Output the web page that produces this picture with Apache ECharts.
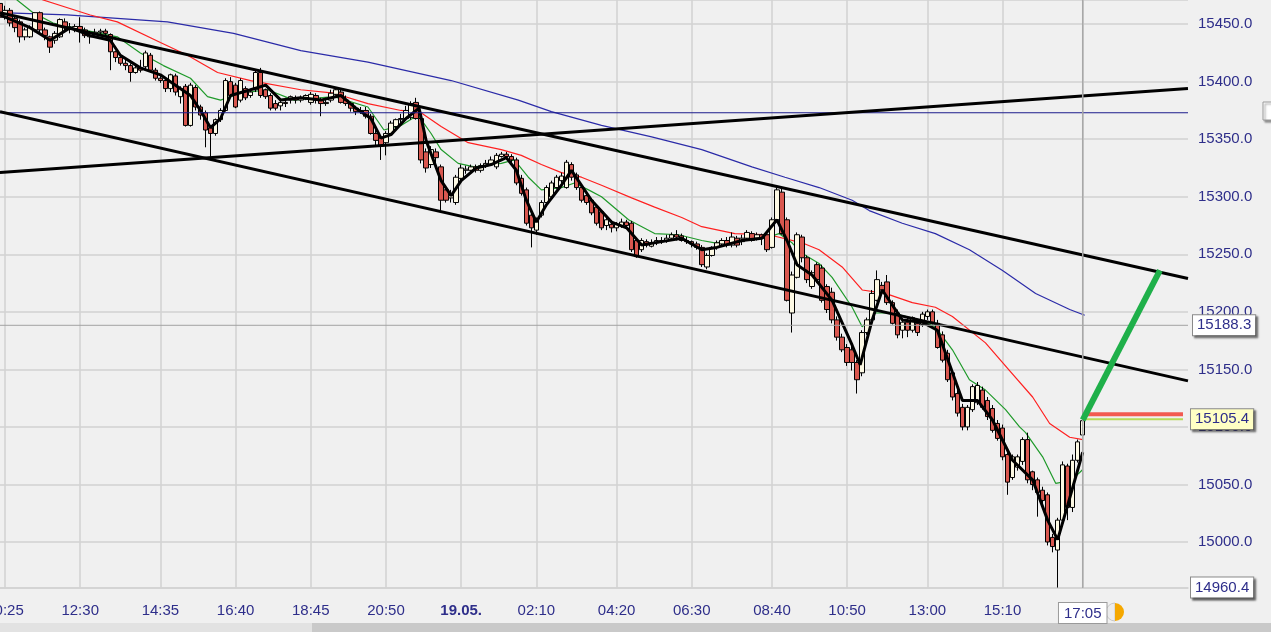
<!DOCTYPE html>
<html><head><meta charset="utf-8">
<script src="https://cdn.jsdelivr.net/npm/echarts@6/dist/echarts.min.js"></script>
<style>html,body{margin:0;padding:0;background:#f0f0f0;}#c{width:1271px;height:632px;}</style>
</head><body><div id="c"></div>
<script>
// ---------- data ----------
const slotCount = 238;
const tickIndex  = [1, 16, 32, 47, 62, 77, 92, 107, 123, 138, 154, 169, 185, 200, 216];
const tickLabels = ['10:25','12:30','14:35','16:40','18:45','20:50','19.05.','02:10','04:20','06:30','08:40','10:50','13:00','15:10','17:05'];

// [open, close, low, high]
const candles = [
[15468,15456,15454,15471],[15456,15462,15454,15466],[15462,15451,15448,15464],[15455,15447,15443,15458],
[15452,15439,15434,15454],[15439,15445,15436,15447],[15439,15447,15438,15449],[15445,15460,15443,15460],
[15460,15445,15443,15461],[15445,15440,15436,15447],[15439,15430,15425,15440],[15436,15442,15433,15444],
[15439,15454,15438,15455],[15452,15447,15443,15455],[15447,15446,15442,15451],[15446,15448,15443,15450],
[15448,15445,15434,15456],[15445,15440,15438,15447],[15439,15442,15433,15444],[15442,15443,15440,15446],
[15443,15444,15440,15446],[15444,15442,15440,15446],[15441,15426,15410,15442],[15426,15421,15417,15427],
[15421,15416,15414,15423],[15416,15414,15410,15419],[15414,15408,15400,15416],[15408,15412,15407,15414],
[15412,15410,15408,15419],[15413,15425,15411,15427],[15423,15410,15408,15425],[15410,15403,15401,15412],
[15403,15401,15399,15405],[15401,15394,15391,15403],[15394,15406,15391,15407],[15405,15391,15388,15407],
[15387,15394,15381,15396],[15396,15362,15361,15398],[15362,15397,15361,15399],[15395,15378,15375,15397],
[15378,15371,15367,15380],[15373,15358,15343,15375],[15360,15355,15332,15362],[15355,15367,15353,15368],
[15367,15375,15365,15377],[15375,15401,15374,15403],[15400,15388,15386,15404],[15397,15378,15377,15399],
[15384,15401,15382,15403],[15394,15386,15384,15396],[15388,15391,15386,15394],[15393,15408,15391,15410],
[15408,15388,15386,15412],[15393,15387,15385,15394],[15388,15377,15375,15390],[15381,15377,15375,15384],
[15379,15382,15375,15384],[15382,15381,15378,15386],[15384,15387,15381,15388],[15386,15384,15381,15388],
[15384,15386,15382,15388],[15386,15388,15384,15389],[15382,15389,15380,15391],[15388,15384,15381,15390],
[15384,15381,15370,15386],[15381,15382,15379,15386],[15384,15390,15382,15393],[15389,15393,15388,15395],
[15391,15382,15381,15394],[15384,15381,15379,15388],[15381,15377,15374,15382],[15377,15374,15371,15379],
[15374,15375,15372,15378],[15375,15370,15368,15378],[15370,15355,15354,15372],[15355,15349,15345,15358],
[15351,15344,15332,15353],[15347,15355,15336,15357],[15355,15364,15354,15366],[15361,15367,15359,15368],
[15367,15368,15363,15372],[15368,15375,15367,15379],[15369,15381,15367,15383],[15382,15368,15367,15386],
[15368,15332,15329,15370],[15339,15325,15321,15342],[15328,15341,15325,15344],[15339,15334,15328,15342],
[15326,15297,15288,15328],[15306,15297,15295,15308],[15299,15301,15295,15306],[15295,15317,15293,15319],
[15316,15325,15314,15328],[15323,15324,15320,15327],[15323,15326,15321,15328],[15326,15323,15321,15328],
[15323,15327,15321,15329],[15327,15329,15325,15332],[15328,15332,15327,15335],[15326,15336,15324,15338],
[15335,15337,15334,15339],[15337,15335,15332,15339],[15335,15332,15329,15337],[15332,15312,15310,15334],
[15316,15303,15301,15319],[15306,15277,15275,15308],[15284,15273,15256,15287],[15271,15280,15267,15282],
[15284,15295,15282,15297],[15295,15308,15293,15310],[15300,15312,15298,15314],[15308,15317,15307,15319],
[15314,15318,15312,15321],[15308,15330,15307,15332],[15328,15317,15314,15330],[15319,15308,15306,15321],
[15308,15297,15295,15310],[15301,15295,15293,15302],[15297,15286,15284,15299],[15291,15277,15275,15293],
[15287,15273,15271,15288],[15275,15280,15271,15282],[15276,15273,15269,15279],[15273,15276,15270,15278],
[15275,15278,15273,15281],[15278,15275,15272,15280],[15277,15254,15252,15279],[15262,15248,15247,15264],
[15254,15262,15252,15264],[15261,15258,15256,15263],[15257,15260,15256,15263],[15260,15262,15258,15265],
[15262,15261,15259,15265],[15262,15264,15260,15267],[15264,15267,15262,15269],[15267,15265,15262,15271],
[15266,15262,15261,15268],[15262,15261,15259,15265],[15261,15259,15256,15262],[15259,15256,15254,15261],
[15256,15241,15239,15258],[15239,15249,15237,15251],[15249,15256,15248,15257],[15256,15260,15254,15262],
[15259,15262,15257,15264],[15262,15258,15256,15265],[15258,15265,15256,15269],[15264,15258,15256,15266],
[15261,15264,15258,15267],[15264,15269,15262,15271],[15268,15262,15261,15270],[15264,15267,15262,15269],
[15267,15264,15258,15268],[15267,15254,15252,15268],[15256,15280,15255,15282],[15280,15306,15278,15308],
[15304,15268,15267,15308],[15280,15210,15209,15282],[15199,15232,15182,15235],[15230,15267,15229,15269],
[15265,15247,15243,15267],[15247,15228,15225,15249],[15222,15234,15220,15236],[15241,15228,15225,15243],
[15238,15210,15208,15241],[15222,15202,15199,15224],[15217,15193,15190,15221],[15193,15178,15175,15196],
[15178,15167,15165,15181],[15169,15156,15153,15172],[15167,15156,15149,15171],[15156,15141,15129,15158],
[15147,15182,15144,15184],[15182,15193,15180,15195],[15193,15216,15191,15219],[15210,15228,15209,15236],
[15223,15219,15215,15226],[15226,15208,15206,15232],[15208,15190,15189,15210],[15199,15180,15177,15202],
[15184,15191,15177,15193],[15191,15184,15178,15195],[15184,15195,15182,15196],[15190,15182,15179,15193],
[15189,15198,15187,15200],[15196,15200,15193,15202],[15200,15191,15189,15202],[15190,15169,15168,15193],
[15180,15158,15156,15183],[15164,15141,15139,15167],[15147,15126,15123,15149],[15129,15112,15109,15132],
[15117,15100,15097,15120],[15100,15117,15097,15119],[15115,15135,15113,15137],[15121,15136,15119,15139],
[15132,15117,15115,15135],[15123,15109,15106,15126],[15116,15097,15095,15119],[15103,15090,15088,15106],
[15099,15074,15071,15102],[15076,15052,15041,15078],[15056,15074,15054,15076],[15065,15074,15062,15076],
[15070,15089,15067,15091],[15089,15054,15051,15095],[15061,15050,15045,15062],[15054,15043,15022,15056],
[15045,15036,15032,15048],[15041,15000,14997,15043],[15004,14996,14991,15007],[14993,15019,14960.4,15021],
[15019,15067,15017,15070],[15066,15030,15019,15068],[15030,15071,15026,15076],[15071,15087,15069,15089],
[15093,15105.4,15090,15108]
];

// moving averages read as [slot, value]
const maRed = [[6,15478],[8.6,15471],[18,15458],[23.4,15452],[32,15434],[37.4,15423],[43.4,15408],[50,15401],
[60,15393],[66.6,15390],[73.4,15381],[80,15375],[84,15373],[88,15361],[93.4,15347],[100,15341],[104,15336],
[108,15328],[112,15321],[116,15317],[120,15310],[126,15299],[130.6,15291],[136,15282],[140,15274],[146.6,15268],
[153.4,15267],[160,15260],[163.4,15254],[168,15239],[172,15219],[176.6,15216],[182,15208],[186.6,15204],
[190,15196],[196.6,15173],[201.4,15149],[206,15126],[209.4,15103],[213.4,15091],[216,15089]];
const maGreen = [[2,15478],[3.4,15471],[6.6,15460],[10.6,15451],[16.6,15445],[23.4,15439],[28,15425],[32.6,15414],
[38,15403],[41.4,15387],[44,15384],[48,15390],[53.4,15393],[58.6,15384],[66.6,15387],[73.4,15378],[76.6,15358],
[80,15362],[83.4,15371],[86,15355],[88,15341],[91.4,15329],[94.6,15326],[100,15329],[102.6,15332],[105.4,15317],
[108,15306],[112,15308],[114.6,15312],[117.4,15306],[120,15300],[125.4,15280],[130.6,15268],[135.4,15267],
[140,15262],[142.6,15260],[146.6,15262],[153.4,15265],[155.4,15268],[158,15260],[160,15251],[163.4,15242],
[166,15230],[170,15204],[172,15187],[174.6,15199],[178,15199],[183.4,15193],[186.6,15187],[190,15167],
[193.4,15141],[196.6,15132],[200.6,15115],[203.4,15100],[204.6,15095],[208,15074],[210.6,15051],[212,15052],
[214.6,15057],[216,15063]];
const maBlue = [[0,15460],[13.4,15458],[33.4,15452],[46.6,15442],[60,15427],[73.4,15417],[90,15401],[103.4,15384],
[110,15374],[120,15362],[130,15352],[140,15341],[150,15326],[156.6,15317],[163.4,15308],[170,15297],[173.4,15288],
[180,15277],[186.6,15268],[193.4,15254],[200,15236],[206.6,15216],[213.4,15202],[216.4,15197]];
const maBlack = [[0,15458],[6,15447],[10,15436],[14,15447],[18,15440],[22,15436],[24,15423],[28,15412],[32,15406],
[35,15397],[38,15388],[40,15375],[42,15360],[44,15368],[46,15388],[50,15393],[53,15397],[56,15384],[60,15386],
[64,15384],[68,15388],[71,15377],[74,15368],[76,15351],[78,15354],[81,15368],[83.6,15377],[85,15349],[88,15314],
[90,15301],[92,15314],[95,15325],[98,15328],[101,15334],[103,15323],[105,15297],[107,15278],[109,15293],
[112,15310],[114,15323],[118,15297],[122,15278],[125,15273],[128,15258],[132,15261],[136,15264],[140,15254],
[143,15256],[148,15262],[152,15264],[155,15280],[157,15262],[159,15241],[162,15232],[166,15210],[170,15171],
[171.6,15154],[174,15193],[176,15219],[180,15193],[184,15191],[187,15184],[192,15123],[195,15123],[198,15106],
[202,15071],[206,15054],[209,15019],[211,15002],[213,15032],[216,15078]];

// drawn lines
const upperChannel = [[0,15460],[237,15229]];
const lowerChannel = [[0,15374],[237,15140]];
const risingLine   = [[0,15321],[237,15394]];
const levelLine    = [[0,15373],[237,15373]];
const targetArrow  = [[216,15106],[231.4,15236]];
const stopLine     = [[216.6,15111],[236,15111]];
const lastPrice    = 15105.4;
const crossPrice   = 15188.3;
const lowPrice     = 14960.4;
const crossSlot    = 216;

// ---------- chart ----------
const categories = Array.from({length: slotCount}, () => '');
tickIndex.forEach((k, j) => { categories[k] = tickLabels[j]; });
const navy = '#2e2e8a';
const font = "'Liberation Sans', Arial, sans-serif";
const fs = 15;
const showTick = (i, v) => v !== '';

function line(data, color, width, z, extra) {
  return Object.assign({type: 'line', xAxisIndex: 1, yAxisIndex: 0, data: data, symbol: 'none', silent: true,
    lineStyle: {color: color, width: width}, itemStyle: {color: color}, z: z}, extra || {});
}
function boxLabel(text, bg, dist) {
  return {show: true, formatter: () => text, distance: dist, color: navy, fontSize: fs, fontFamily: font,
    backgroundColor: bg, borderColor: '#8a8a8a', borderWidth: 1, padding: [3, 4, 2, 4],
    shadowColor: 'rgba(0,0,0,0.45)', shadowBlur: 2, shadowOffsetX: 2, shadowOffsetY: 2};
}

const chart = echarts.init(document.getElementById('c'), null, {renderer: 'canvas'});
chart.setOption({
  animation: false,
  backgroundColor: '#f0f0f0',
  grid: {left: 0, right: 83, top: 0, bottom: 44, containLabel: false, outerBoundsMode: 'none'},
  xAxis: [
    {type: 'category', data: categories, boundaryGap: false,
     axisLine: {show: true, lineStyle: {color: '#d2d2d2', width: 1.5}}, axisTick: {show: false},
     axisLabel: {interval: showTick, margin: 15, color: navy, fontSize: fs, fontFamily: font,
       formatter: v => v === '19.05.' ? '{b|' + v + '}' : (v === '17:05' ? '{box|' + v + '}' : v),
       rich: {b: {fontWeight: 'bold', color: navy, fontSize: fs, fontFamily: font},
              box: {color: navy, fontSize: fs, fontFamily: font, backgroundColor: '#ffffff',
                    borderColor: '#9a9a9a', borderWidth: 1, padding: [3, 5, 2, 5]}}},
     splitLine: {show: true, interval: showTick, lineStyle: {color: '#d2d2d2', width: 1.5}}},
    {type: 'value', min: 0, max: slotCount - 1, show: false}
  ],
  yAxis: {type: 'value', position: 'right', scale: true, min: 14960, max: 15471,
    minInterval: 50, maxInterval: 50, splitNumber: 10,
    axisLine: {show: false}, axisTick: {show: false},
    axisLabel: {color: navy, fontSize: fs, fontFamily: font, margin: 10, showMinLabel: false, showMaxLabel: false,
      formatter: v => v.toFixed(1)},
    splitLine: {show: true, lineStyle: {color: '#d2d2d2', width: 1.5}}},
  series: [
    line(maBlue, '#2b2ba8', 1.2, 2),
    line(maRed, '#ff2020', 1.2, 2),
    line(maGreen, '#1f9a2a', 1.2, 2),
    {type: 'candlestick', xAxisIndex: 0, yAxisIndex: 0, data: candles, barWidth: 5, silent: true, z: 3,
     itemStyle: {color: '#fdf9e4', color0: '#d9574f', borderColor: '#000', borderColor0: '#000', borderWidth: 1}},
    line(maBlack, '#000000', 3, 4),
    line(levelLine, '#1c1c8c', 1.2, 5),
    line(upperChannel, '#000000', 3, 5),
    line(lowerChannel, '#000000', 3, 5),
    line(risingLine, '#000000', 3, 5),
    line([[0, crossPrice], [slotCount - 1, crossPrice]], '#a2a2a2', 1, 5, {endLabel: boxLabel(String(crossPrice), '#ffffff', 5)}),
    line([[crossSlot, 14960], [crossSlot, 15471]], '#a8a8a8', 1.5, 5),
    line([[0, lowPrice], [slotCount - 1, lowPrice]], 'rgba(0,0,0,0)', 1, 5, {endLabel: boxLabel(String(lowPrice), '#ffffff', 3)}),
    line(stopLine, '#f25a50', 4, 6),
    line([[216.6, lastPrice + 1.2], [236, lastPrice + 1.2]], '#b8d858', 2, 6, {endLabel: boxLabel(String(lastPrice), '#ffffc4', 8)}),
    line(targetArrow, '#1fb04a', 6, 7)
  ],
  graphic: [
    {type: 'rect', shape: {x: 0, y: 623, width: 1271, height: 9}, style: {fill: '#e2e2e2'}, silent: true},
    {type: 'rect', shape: {x: 312, y: 623, width: 959, height: 9}, style: {fill: '#c9c9c9'}, silent: true},
    {type: 'sector', shape: {cx: 1115, cy: 612, r: 9, r0: 0, startAngle: Math.PI / 2, endAngle: Math.PI * 1.5},
     style: {fill: '#ececec', stroke: '#c8c8c8', lineWidth: 1}, silent: true},
    {type: 'sector', shape: {cx: 1115, cy: 612, r: 9, r0: 0, startAngle: -Math.PI / 2, endAngle: Math.PI / 2},
     style: {fill: '#f5a800'}, silent: true},
    {type: 'rect', shape: {x: 1263, y: 102, width: 14, height: 18},
     style: {fill: '#ffffff', stroke: '#9a9a9a', lineWidth: 1, shadowColor: 'rgba(0,0,0,0.4)', shadowBlur: 2, shadowOffsetX: 2, shadowOffsetY: 2}, silent: true}
  ]
});
</script></body></html>
